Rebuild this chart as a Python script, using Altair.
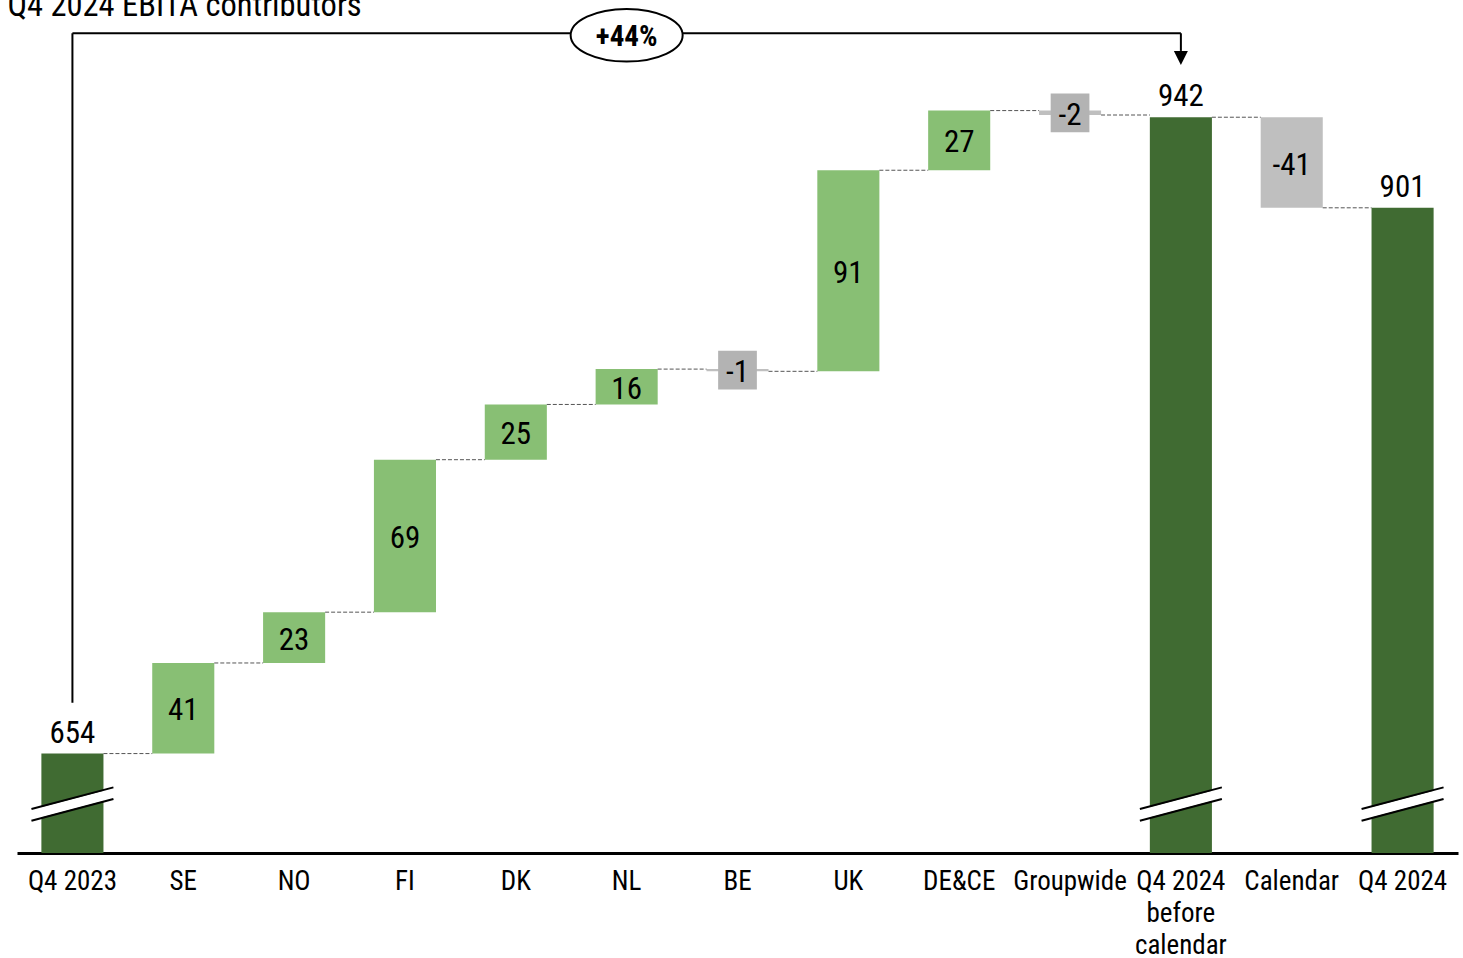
import altair as alt
import pandas as pd

# Waterfall: Q4 2023 EBITA -> country contributions -> Q4 2024
categories = ["Q4 2023", "SE", "NO", "FI", "DK", "NL", "BE", "UK", "DE&CE",
              "Groupwide", "Q4 2024 before calendar", "Calendar", "Q4 2024"]
values = [654, 41, 23, 69, 25, 16, -1, 91, 27, -2, 942, -41, 901]
kinds = ["total", "delta", "delta", "delta", "delta", "delta", "delta",
         "delta", "delta", "delta", "total", "delta", "total"]

TITLE = "Q4 2024 EBITA contributors"
GROWTH_LABEL = "+44%"

# value axis is broken: bars start at the floor value
AXIS_FLOOR = 609
AXIS_TOP = 986
TITLE_LEVEL = 987.8
BRACKET_LEVEL = 980
BRACKET_LEFT_END = 677
ARROW_STEM_END = 972
ARROW_LEVEL = 968.8
BREAK_EDGES = [(623.6, 633.4), (628.9, 638.7)]
BREAK_GAP = (626.25, 636.05)

DARK = "#406b32"
LIGHT = "#88bf74"
GREY = "#bfbfbf"
BOX_GREY = "#b3b3b3"
FONT = "Roboto Condensed, DejaVu Sans Condensed, Arial Narrow, Roboto"

rows = []
running = 0
for cat, val, kind in zip(categories, values, kinds):
    if kind == "total":
        start, end = AXIS_FLOOR, val
        running = val
        fill = DARK
    else:
        start, end = running, running + val
        running = end
        fill = LIGHT if val > 0 else GREY
    rows.append(dict(cat=cat, val=val, kind=kind, start=start, end=end,
                     mid=(start + end) / 2, level=running, fill=fill,
                     label=str(val), boxed=abs(val) < 5 and kind == "delta"))
df = pd.DataFrame(rows)

conn = pd.DataFrame({
    "cat": categories[:-1],
    "nxt": categories[1:],
    "level": df["level"].tolist()[:-1],
})

x_scale = alt.Scale(domain=categories, paddingInner=0.44, paddingOuter=0.22)
y_scale = alt.Scale(domain=[AXIS_FLOOR, AXIS_TOP], zero=False, nice=False)


def xcat(field):
    return alt.X(field, scale=x_scale, sort=categories)


def yval(field):
    return alt.Y(field, scale=y_scale)


label_expr = ("datum.value == 'Q4 2024 before calendar' ? "
              "['Q4 2024', 'before', 'calendar'] : datum.label")

X = alt.X("cat:N", scale=x_scale, sort=categories,
          axis=alt.Axis(title=None, labelAngle=0, ticks=False, domainColor="black",
                        domainWidth=3, labelFontSize=27, labelColor="black",
                        labelFont=FONT, labelPadding=15, labelLineHeight=32,
                        labelExpr=label_expr))
Y = alt.Y("start:Q", scale=y_scale, axis=None)

bars = alt.Chart(df).mark_bar().encode(
    x=X, y=Y, y2="end:Q", color=alt.Color("fill:N", scale=None))

connectors = alt.Chart(conn).mark_rule(
    color="#555555", strokeWidth=1, strokeDash=[4, 2], xOffset=31, x2Offset=-31
).encode(x=xcat("cat:N"), x2="nxt:N", y=yval("level:Q"))

total_labels = alt.Chart(df[df.kind == "total"]).mark_text(
    fontSize=31, font=FONT, baseline="alphabetic", dy=-11, color="black"
).encode(x=xcat("cat:N"), y=yval("end:Q"), text="label:N")

boxes = alt.Chart(df[df.boxed]).mark_point(
    shape="square", size=1500, filled=True, color=BOX_GREY, opacity=1
).encode(x=xcat("cat:N"), y=yval("mid:Q"))

delta_labels = alt.Chart(df[df.kind == "delta"]).mark_text(
    fontSize=31, font=FONT, baseline="middle", color="black", dy=3
).encode(x=xcat("cat:N"), y=yval("mid:Q"), text="label:N")

# axis-break marks on the total bars
totals = df[df.kind == "total"][["cat"]]
gap = totals.assign(y1=BREAK_GAP[0], y2=BREAK_GAP[1])
edges = pd.concat([totals.assign(y1=a, y2=b) for a, b in BREAK_EDGES])

break_gap = alt.Chart(gap).mark_rule(
    color="white", strokeWidth=10, xOffset=-41, x2Offset=41
).encode(x=xcat("cat:N"), x2="cat:N", y=yval("y1:Q"), y2="y2:Q")
break_edges = alt.Chart(edges).mark_rule(
    color="black", strokeWidth=2, xOffset=-41, x2Offset=41
).encode(x=xcat("cat:N"), x2="cat:N", y=yval("y1:Q"), y2="y2:Q")

# growth bracket from Q4 2023 to Q4 2024 before calendar
left_cat, right_cat = categories[0], categories[10]
bracket = pd.DataFrame({
    "x": [left_cat, left_cat, right_cat],
    "x2": [right_cat, left_cat, right_cat],
    "y": [BRACKET_LEVEL, BRACKET_LEFT_END, ARROW_STEM_END],
    "y2": [BRACKET_LEVEL, BRACKET_LEVEL, BRACKET_LEVEL],
})
bracket_lines = alt.Chart(bracket).mark_rule(color="black", strokeWidth=2).encode(
    x=xcat("x:N"), x2="x2:N", y=yval("y:Q"), y2="y2:Q")

arrow = alt.Chart(pd.DataFrame({"x": [right_cat], "y": [ARROW_LEVEL]})).mark_point(
    shape="M -1 -1 L 1 -1 L 0 1 Z", size=196, filled=True, color="black", opacity=1
).encode(x=xcat("x:N"), y=yval("y:Q"))

badge_df = pd.DataFrame({"x": ["NL"], "y": [BRACKET_LEVEL], "t": [GROWTH_LABEL]})
badge = alt.Chart(badge_df).mark_point(
    shape="M -1 0 A 1 0.47 0 1 1 1 0 A 1 0.47 0 1 1 -1 0 Z",
    size=12544, fill="white", stroke="black", strokeWidth=2,
    fillOpacity=1, strokeOpacity=1, yOffset=2
).encode(x=xcat("x:N"), y=yval("y:Q"))
badge_text = alt.Chart(badge_df).mark_text(
    fontSize=29, font=FONT, fontWeight="bold", baseline="middle", color="black", dy=4
).encode(x=xcat("x:N"), y=yval("y:Q"), text="t:N")

# chart heading, anchored to the first category column
title_df = pd.DataFrame({"x": [left_cat], "y": [TITLE_LEVEL], "t": [TITLE]})
title = alt.Chart(title_df).mark_text(
    fontSize=32.5, font=FONT, align="left", baseline="alphabetic", color="black", dx=-65
).encode(x=xcat("x:N"), y=yval("y:Q"), text="t:N")

chart = alt.layer(
    bars, connectors, boxes, delta_labels, total_labels,
    break_gap, break_edges, bracket_lines, arrow, badge, badge_text, title
).properties(
    width=1441, height=833,
    padding={"left": 17, "right": 5, "top": 20, "bottom": 105},
    autosize=alt.AutoSizeParams(type="none"),
).configure_view(stroke=None)

chart.save("out.html", embed_options={"renderer": "svg", "actions": False})
